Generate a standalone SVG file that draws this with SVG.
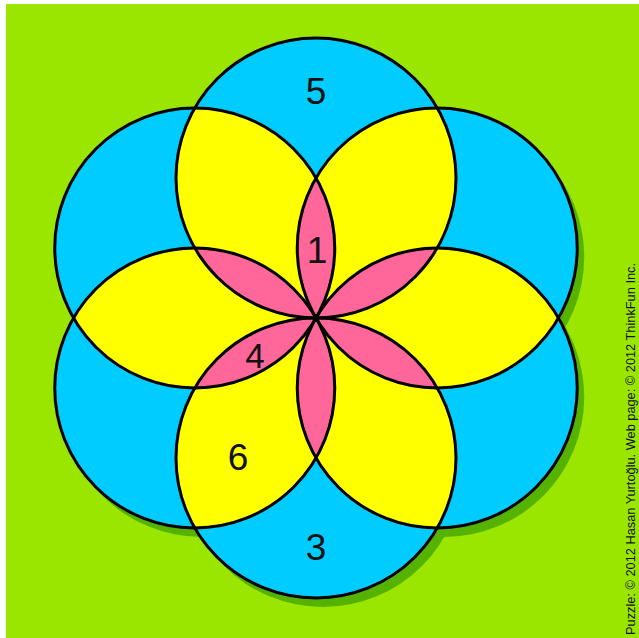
<svg xmlns="http://www.w3.org/2000/svg" xmlns:xlink="http://www.w3.org/1999/xlink" width="639" height="638" viewBox="0 0 639 638">
<style>
.bg{fill:#ffffff}
.grass{fill:#9ae600}
.shadow{fill:#55b300}
.blue{fill:#00ccff}
.yellow{fill:#ffff00}
.pink{fill:#ff6699}
.outline{fill:none;stroke:#000000;stroke-width:3}
.num{font-family:"Liberation Sans",Arial,sans-serif;font-size:37px;fill:#111111;text-anchor:middle}
.credit{font-family:"Liberation Sans",Arial,sans-serif;font-size:12px;fill:#111111}
</style>
<defs>
<circle id="c0" cx="316" cy="178" r="140"/>
<circle id="c1" cx="437.24" cy="248" r="140"/>
<circle id="c2" cx="437.24" cy="388" r="140"/>
<circle id="c3" cx="316" cy="458" r="140"/>
<circle id="c4" cx="194.76" cy="388" r="140"/>
<circle id="c5" cx="194.76" cy="248" r="140"/>
<clipPath id="k0"><circle cx="316" cy="178" r="140"/></clipPath>
<clipPath id="k1"><circle cx="437.24" cy="248" r="140"/></clipPath>
<clipPath id="k2"><circle cx="437.24" cy="388" r="140"/></clipPath>
<clipPath id="k3"><circle cx="316" cy="458" r="140"/></clipPath>
<clipPath id="k4"><circle cx="194.76" cy="388" r="140"/></clipPath>
<clipPath id="k5"><circle cx="194.76" cy="248" r="140"/></clipPath>
</defs>
<rect class="bg" x="0" y="0" width="639" height="638"/>
<rect class="grass" x="6" y="4" width="633" height="634"/>
<g id="shadow" class="shadow" transform="translate(7,9)">
<use xlink:href="#c0"/><use xlink:href="#c1"/><use xlink:href="#c2"/>
<use xlink:href="#c3"/><use xlink:href="#c4"/><use xlink:href="#c5"/>
</g>
<g id="circles-fill" class="blue">
<use xlink:href="#c0"/><use xlink:href="#c1"/><use xlink:href="#c2"/>
<use xlink:href="#c3"/><use xlink:href="#c4"/><use xlink:href="#c5"/>
</g>
<g id="double-overlaps" class="yellow">
<use xlink:href="#c0" clip-path="url(#k1)"/>
<use xlink:href="#c1" clip-path="url(#k2)"/>
<use xlink:href="#c2" clip-path="url(#k3)"/>
<use xlink:href="#c3" clip-path="url(#k4)"/>
<use xlink:href="#c4" clip-path="url(#k5)"/>
<use xlink:href="#c5" clip-path="url(#k0)"/>
</g>
<g id="triple-overlaps" class="pink">
<use xlink:href="#c0" clip-path="url(#k2)"/>
<use xlink:href="#c1" clip-path="url(#k3)"/>
<use xlink:href="#c2" clip-path="url(#k4)"/>
<use xlink:href="#c3" clip-path="url(#k5)"/>
<use xlink:href="#c4" clip-path="url(#k0)"/>
<use xlink:href="#c5" clip-path="url(#k1)"/>
</g>
<g id="outlines" class="outline">
<use xlink:href="#c0"/><use xlink:href="#c1"/><use xlink:href="#c2"/>
<use xlink:href="#c3"/><use xlink:href="#c4"/><use xlink:href="#c5"/>
</g>
<g id="numbers">
<text class="num" x="316" y="104">5</text>
<text class="num" x="317" y="263">1</text>
<text class="num" x="255" y="368" style="font-size:35px">4</text>
<text class="num" x="238" y="470">6</text>
<text class="num" x="316" y="560">3</text>
</g>
<text class="credit" transform="translate(635,635) rotate(-90)" x="0" y="0" textLength="372" lengthAdjust="spacingAndGlyphs">Puzzle: © 2012 Hasan Yurtoğlu. Web page: © 2012 ThinkFun Inc.</text>
</svg>
